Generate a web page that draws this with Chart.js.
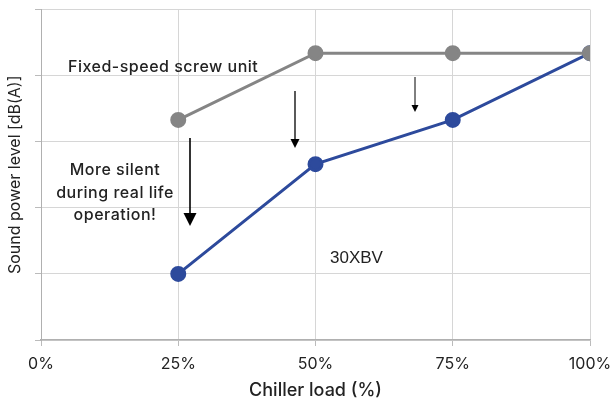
<!DOCTYPE html>
<html>
<head>
<meta charset="utf-8">
<script src="https://cdn.jsdelivr.net/npm/chart.js@4"></script>
<style>
  html, body { margin: 0; padding: 0; background: #fff; }
  #wrap { width: 611px; height: 401px; }
</style>
</head>
<body>
<div id="wrap"><canvas id="soundChart" width="611" height="401"></canvas></div>
<script>
// chiller load (%) and relative sound power level (no scale printed on the original)
var loads = [25, 50, 75, 100];
var fixedSpeed = [3.33, 4.34, 4.34, 4.34];
var xbv30 = [1.0, 2.66, 3.33, 4.34];
var xTicks = [0, 25, 50, 75, 100];

function pts(vals) {
    return vals.map(function (v, i) { return { x: loads[i], y: v }; });
}

// text + arrows drawn on top
var notes = {
    id: 'notes',
    afterDraw: function (chart) {
        var ctx = chart.ctx;
        ctx.save();
        ctx.fillStyle = '#222';
        ctx.textBaseline = 'middle';
        ctx.font = '500 16px Inter';
        ctx.letterSpacing = '0.5px';
        ctx.textAlign = 'left';
        ctx.fillText('Fixed-speed screw unit', 68, 67);
        ctx.textAlign = 'center';
        ctx.fillText('More silent', 115, 170);
        ctx.fillText('during real life', 115, 193);
        ctx.fillText('operation!', 115, 215);
        ctx.font = '17px "Liberation Sans"';
        ctx.letterSpacing = '0px';
        ctx.textAlign = 'left';
        ctx.fillText('30XBV', 330, 258);

        function arrow(x, y1, y2, w, hw, hl) {
            ctx.strokeStyle = '#000';
            ctx.fillStyle = '#000';
            ctx.lineWidth = w;
            ctx.beginPath();
            ctx.moveTo(x, y1);
            ctx.lineTo(x, y2 - hl);
            ctx.stroke();
            ctx.beginPath();
            ctx.moveTo(x - hw, y2 - hl);
            ctx.lineTo(x + hw, y2 - hl);
            ctx.lineTo(x, y2);
            ctx.closePath();
            ctx.fill();
        }
        arrow(190, 138, 226, 1.6, 6.5, 13);
        arrow(295, 91, 148, 1.3, 4.5, 9);
        arrow(415, 77, 112, 1, 3.5, 7);
        ctx.restore();
    }
};

new Chart(document.getElementById('soundChart'), {
    type: 'line',
    data: {
        datasets: [
            {
                label: 'Fixed-speed screw unit',
                data: pts(fixedSpeed),
                borderColor: '#858585',
                backgroundColor: '#858585',
                borderWidth: 3,
                pointRadius: 6.5,
                pointHoverRadius: 6.5
            },
            {
                label: '30XBV',
                data: pts(xbv30),
                borderColor: '#2D4A9C',
                backgroundColor: '#2D4A9C',
                borderWidth: 3,
                pointRadius: 6.5,
                pointHoverRadius: 6.5
            }
        ]
    },
    options: {
        responsive: false,
        animation: false,
        layout: { padding: { top: 8, right: 0, left: 0, bottom: 0 } },
        plugins: {
            legend: { display: false },
            tooltip: { enabled: false }
        },
        scales: {
            x: {
                type: 'linear',
                min: 0,
                max: 100,
                afterBuildTicks: function (s) {
                    s.ticks = xTicks.map(function (v) { return { value: v }; });
                },
                afterFit: function (s) {
                    s.height = 61;
                    s.paddingRight = 21;
                },
                grid: { color: '#d6d6d6', lineWidth: 1, tickLength: 6, tickColor: '#bbb' },
                border: { color: '#b0b0b0', width: 1.5 },
                ticks: {
                    color: '#222',
                    font: { family: 'Inter', size: 16 },
                    padding: 9,
                    maxRotation: 0,
                    callback: function (v) { return v + '%'; }
                },
                title: {
                    display: true,
                    text: 'Chiller load (%)',
                    color: '#222',
                    font: { family: 'Inter', size: 18, weight: '500' },
                    padding: { top: 2, bottom: 0 }
                }
            },
            y: {
                min: 0,
                max: 5,
                ticks: { stepSize: 1, display: false },
                afterFit: function (s) { s.width = 41; },
                grid: { color: '#d6d6d6', lineWidth: 1, tickLength: 6, tickColor: '#bbb' },
                border: { color: '#b0b0b0', width: 1 },
                title: {
                    display: true,
                    text: 'Sound power level [dB(A)]',
                    color: '#222',
                    font: { family: 'Inter', size: 16 },
                    padding: { top: 6, bottom: 0 }
                }
            }
        }
    },
    plugins: [notes]
});
</script>
</body>
</html>
